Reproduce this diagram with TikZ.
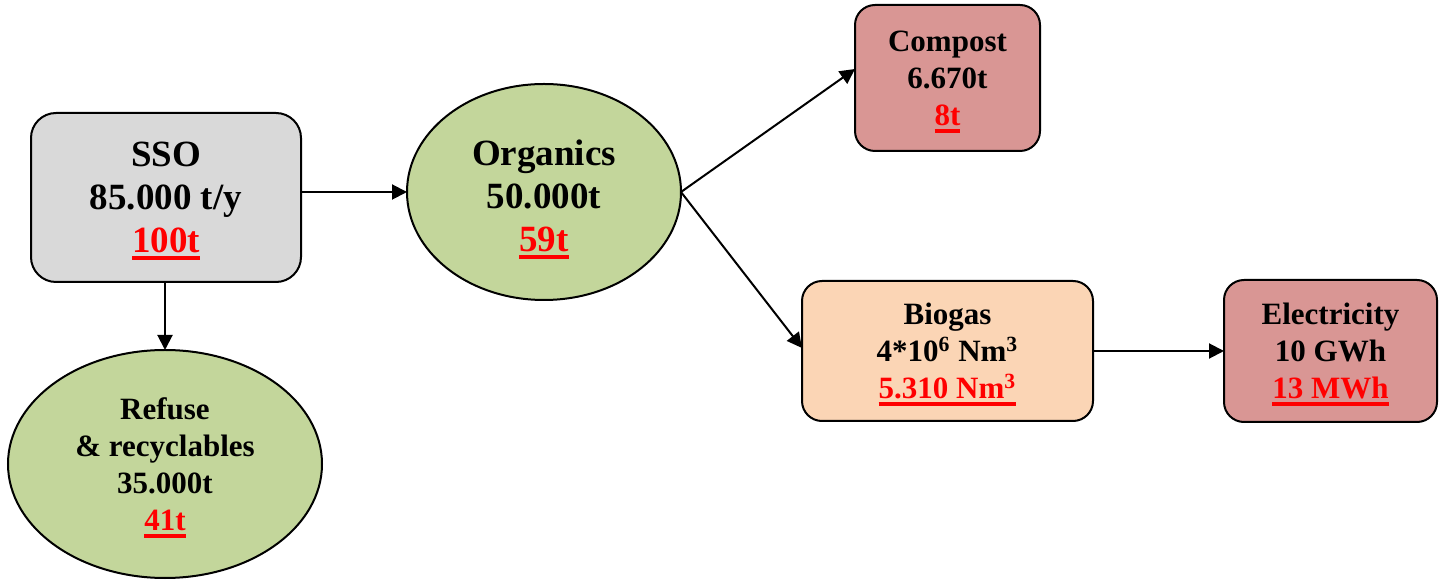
\documentclass[tikz,border=0pt]{standalone}
\usepackage{fontspec}
\setmainfont{Liberation Serif}
\usetikzlibrary{arrows.meta,shapes.geometric}

\definecolor{ssogray}{HTML}{D9D9D9}
\definecolor{leafgreen}{HTML}{C3D69B}
\definecolor{rosebox}{HTML}{D99694}
\definecolor{peachbox}{HTML}{FBD5B5}

% red, underlined quantity (the rule adds no depth to the line)
\newcommand\redqty[1]{\textcolor{red}{\setbox0=\hbox{#1}\rlap{\smash{\rule[-3.75pt]{\wd0}{2pt}}}\box0}}

\tikzset{
  bigtext/.style={font=\bfseries\fontsize{18.5}{21.5}\selectfont},
  smalltext/.style={font=\bfseries\fontsize{15.5}{18.5}\selectfont},
  roundbox/.style={draw=black, line width=1pt, rectangle, rounded corners=#1,
    align=center, inner sep=0pt, outer sep=0pt},
  oval/.style={draw=black, line width=1pt, ellipse, fill=leafgreen,
    align=center, inner sep=0pt, outer sep=0pt},
  flow/.style={draw=black, line width=1pt,
    -{Triangle[length=7.5pt, width=7.5pt]}},
}

\begin{document}
\begin{tikzpicture}[x=0.5pt, y=-0.5pt]
  \useasboundingbox (0,0) rectangle (1441,582);

  \node[roundbox=12.5pt, fill=ssogray, bigtext,
        minimum width=135pt, minimum height=84.5pt]
    (sso) at (166,197.5) {SSO\\85.000 t/y\\\redqty{100t}};

  \node[oval, bigtext, minimum width=137pt, minimum height=108pt]
    (org) at (544,192) {\rule{0pt}{16.5pt}Organics\\50.000t\\\redqty{59t}};

  \node[oval, smalltext, minimum width=157pt, minimum height=114pt]
    (ref) at (165,464) {Refuse\\\& recyclables\\35.000t\\\redqty{41t}};

  \node[roundbox=10pt, fill=rosebox, smalltext,
        minimum width=92.5pt, minimum height=73pt]
    (comp) at (947.5,78) {Compost\\6.670t\\\redqty{8t}};

  \node[roundbox=10pt, fill=peachbox, smalltext,
        minimum width=145.5pt, minimum height=70pt]
    (bio) at (947.5,351)
    {Biogas\\4*10\textsuperscript{6} Nm\textsuperscript{3}\\\redqty{5.310 Nm\textsuperscript{3}}};

  \node[roundbox=10pt, fill=rosebox, smalltext,
        minimum width=106.5pt, minimum height=71pt]
    (elec) at (1330.5,351) {Electricity\\10 GWh\\\redqty{13 MWh}};

  \draw[flow] (sso.east |- org.west) -- (org.west);
  \draw[flow] (sso.south -| ref.north) -- (ref.north);
  \draw[flow] (org.east) -- ([yshift=4.5pt]comp.west);
  \draw[flow] (org.east) -- ([yshift=1.5pt]bio.west);
  \draw[flow] (bio.east) -- (elec.west);
\end{tikzpicture}
\end{document}
